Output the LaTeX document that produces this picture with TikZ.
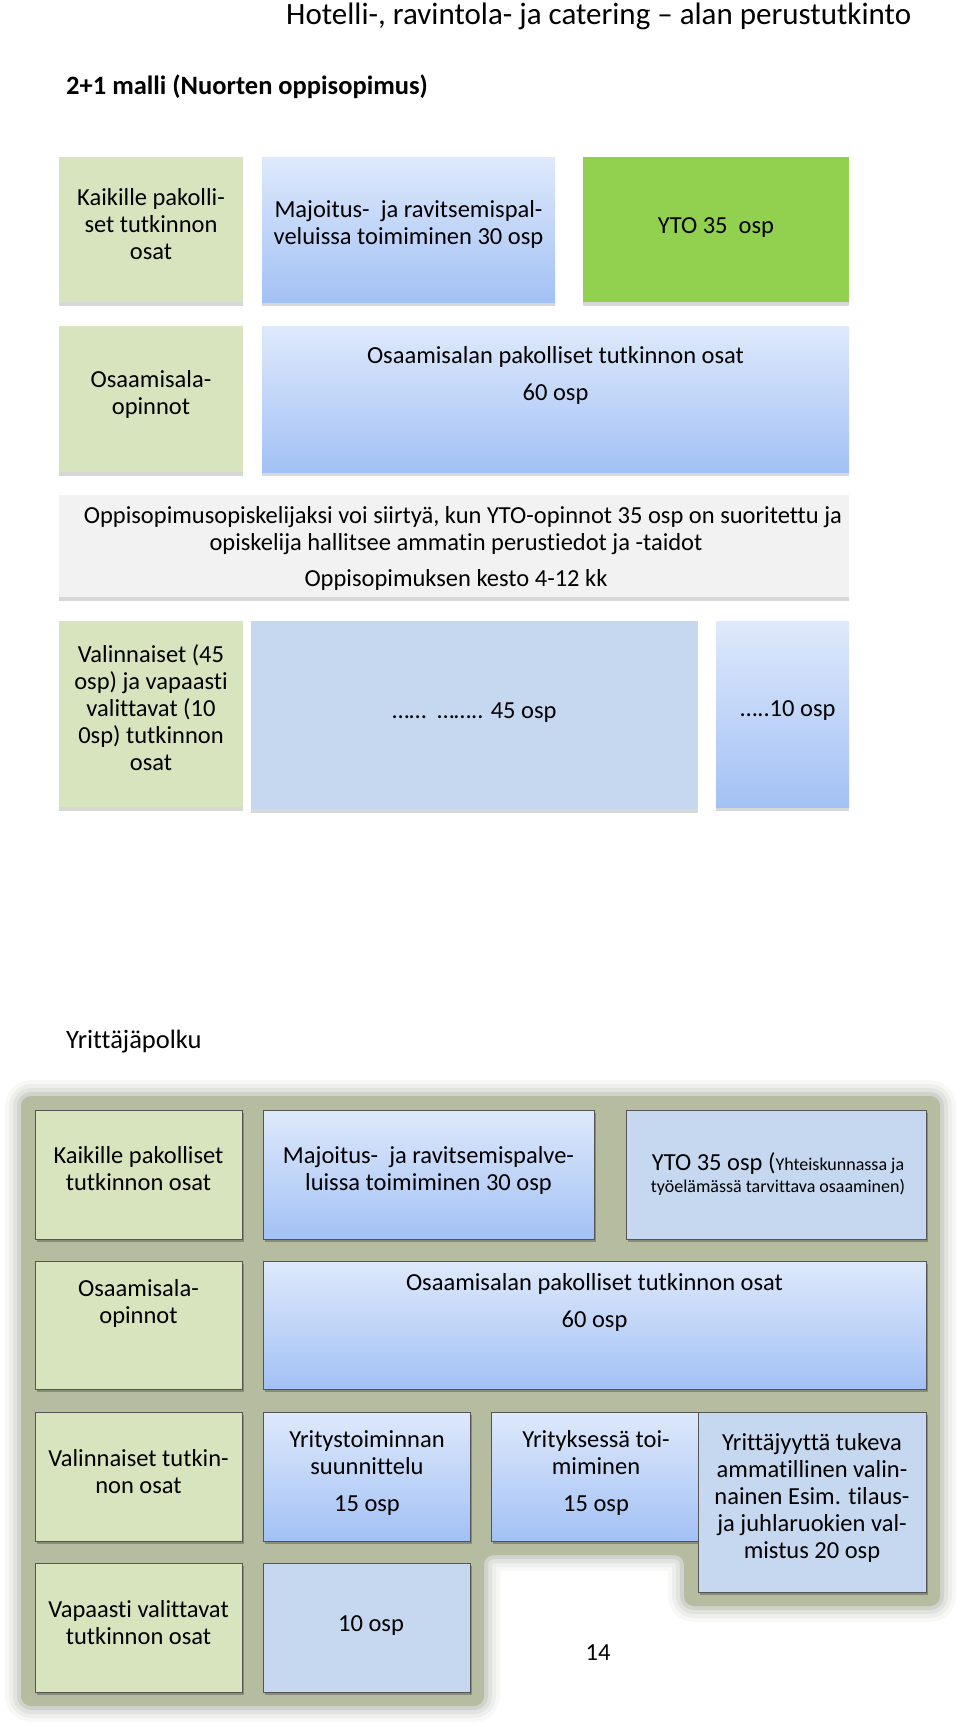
\documentclass[tikz,border=0pt]{standalone}
\usepackage{fontspec}
\setmainfont{Carlito}[Ligatures=NoCommon]
\usetikzlibrary{shadows}
\definecolor{boxgreen}{RGB}{215,228,189}
\definecolor{gradtop}{RGB}{222,233,251}
\definecolor{gradbot}{RGB}{163,193,245}
\definecolor{flatblue}{RGB}{198,216,240}
\definecolor{brightgreen}{RGB}{146,208,80}
\definecolor{lightgray}{RGB}{242,242,242}
\definecolor{olivebg}{RGB}{181,188,159}
\definecolor{olivehalo}{RGB}{170,174,160}
\definecolor{edgegray}{RGB}{85,85,85}
\begin{document}
\begin{tikzpicture}[x=1pt,y=-1pt,
  base/.style={inner sep=0, outer sep=0, anchor=north west, draw=none},
  softshadow/.style={drop shadow={shadow xshift=0pt, shadow yshift=-4pt, opacity=0.22, fill=black!70}},
  edgeshadow/.style={drop shadow={shadow xshift=2pt, shadow yshift=-2.5pt, opacity=0.35, fill=black!80}},
  greenbox/.style={base, fill=boxgreen},
  gradbox/.style={base, top color=gradtop, bottom color=gradbot},
  flatbox/.style={base, fill=flatblue},
  brightbox/.style={base, fill=brightgreen},
  graybox/.style={base, fill=lightgray},
  topbox/.style={softshadow},
  lowbox/.style={edgeshadow, draw=edgegray, line width=0.9pt},
  lbl/.style={inner sep=0, align=center, yshift=-3pt, font=\fontsize{24.5}{27}\selectfont,
    execute at begin node=\strut, execute at end node=\strut},
  smalllbl/.style={inner sep=0, align=center, yshift=-3pt, font=\fontsize{18}{22}\selectfont,
    execute at begin node=\strut, execute at end node=\strut},
  heading/.style={inner sep=0, anchor=base west}
]
\useasboundingbox (0,0) rectangle (960,1727);
\fill[white] (0,0) rectangle (960,1727);

% ---------- headings ----------
\node[heading, font=\fontsize{31}{36}\selectfont] (title) at (286,24)
  {Hotelli-, ravintola- ja catering – alan perustutkinto};
\node[heading, font=\bfseries\fontsize{26.5}{30}\selectfont] (sub) at (66,94)
  {2+1 malli (Nuorten oppisopimus)};

% ---------- section 1 boxes ----------
\node[greenbox, topbox, minimum width=184, minimum height=145] (a1) at (59,157) {};
\node[gradbox, topbox, minimum width=293, minimum height=145] (a2) at (262,157) {};
\node[brightbox, topbox, minimum width=266, minimum height=145] (a3) at (583,157) {};
\node[greenbox, topbox, minimum width=184, minimum height=146] (b1) at (59,326) {};
\node[gradbox, topbox, minimum width=587, minimum height=146] (b2) at (262,326) {};
\node[graybox, topbox, minimum width=790, minimum height=102] (c1) at (59,495) {};
\node[greenbox, topbox, minimum width=184, minimum height=186] (d1) at (59,621) {};
\node[flatbox, topbox, minimum width=447, minimum height=188] (d2) at (251,621) {};
\node[gradbox, topbox, minimum width=133, minimum height=186] (d3) at (716,621) {};

\node[lbl] (ta1) at (151,225) {Kaikille pakolli-\\set tutkinnon\\osat};
\node[lbl] (ta2) at (408.5,224) {Majoitus-\ \ ja ravitsemispal-\\veluissa toimiminen 30 osp};
\node[lbl] (ta3) at (716,225) {YTO 35\ \ osp};
\node[lbl] (tb1) at (151,393.5) {Osaamisala-\\opinnot};
\node[lbl] (tb2) at (555.5,374.5) {Osaamisalan pakolliset tutkinnon osat\\[10pt]60 osp};
\node[lbl] (tc1) at (456,547.5) {\hspace*{14pt}Oppisopimusopiskelijaksi voi siirtyä, kun YTO-opinnot 35 osp on suoritettu ja\\opiskelija hallitsee ammatin perustiedot ja -taidot\\[9pt]Oppisopimuksen kesto 4-12 kk};
\node[lbl] (td1) at (151,709) {Valinnaiset (45\\osp) ja vapaasti\\valittavat (10\\0sp) tutkinnon\\osat};
\node[lbl] (td2) at (474.5,710) {……\ \ …….. 45 osp};
\node[lbl] (td3) at (788,708) {…..10 osp};

% ---------- section 2 ----------
\node[heading, font=\fontsize{26.5}{30}\selectfont] (yp) at (66,1048) {Yrittäjäpolku};

\begin{scope}[rounded corners=10pt]
  \foreach \w/\o in {32/0.08, 24/0.12, 16/0.18, 8/0.3}{
    \draw[olivehalo, line width=\w pt, opacity=\o, line join=round]
      (21,1096) -- (940,1096) -- (940,1606) -- (684,1606) -- (684,1555)
      -- (484,1555) -- (484,1706) -- (21,1706) -- cycle;
  }
  \fill[olivebg] (21,1096) -- (940,1096) -- (940,1606) -- (684,1606) -- (684,1555)
      -- (484,1555) -- (484,1706) -- (21,1706) -- cycle;
\end{scope}

\node[greenbox, lowbox, minimum width=207, minimum height=129] (e1) at (35,1110) {};
\node[gradbox, lowbox, minimum width=331, minimum height=129] (e2) at (263,1110) {};
\node[flatbox, lowbox, minimum width=300, minimum height=129] (e3) at (626,1110) {};
\node[greenbox, lowbox, minimum width=207, minimum height=128] (f1) at (35,1261) {};
\node[gradbox, lowbox, minimum width=663, minimum height=128] (f2) at (263,1261) {};
\node[greenbox, lowbox, minimum width=207, minimum height=129] (g1) at (35,1412) {};
\node[gradbox, lowbox, minimum width=207, minimum height=129] (g2) at (263,1412) {};
\node[gradbox, lowbox, minimum width=207, minimum height=129] (g3) at (491,1412) {};
\node[flatbox, lowbox, minimum width=228, minimum height=180] (g4) at (698,1412) {};
\node[greenbox, lowbox, minimum width=207, minimum height=129] (h1) at (35,1563) {};
\node[flatbox, lowbox, minimum width=207, minimum height=129] (h2) at (263,1563) {};

\node[lbl] (te1) at (138.5,1169.5) {Kaikille pakolliset\\tutkinnon osat};
\node[lbl] (te2) at (428.5,1170) {Majoitus-\ \ ja ravitsemispalve-\\luissa toimiminen 30 osp};
\node[smalllbl] (te3) at (778,1173) {{\fontsize{24.5}{22}\selectfont YTO 35 osp (}Yhteiskunnassa ja\\työelämässä tarvittava osaaminen)};
\node[lbl] (tf1) at (138.5,1302.5) {Osaamisala-\\opinnot};
\node[lbl] (tf2) at (594.5,1301.5) {Osaamisalan pakolliset tutkinnon osat\\[10pt]60 osp};
\node[lbl] (tg1) at (138.5,1472.5) {Valinnaiset tutkin-\\non osat};
\node[lbl] (tg2) at (367,1472) {Yritystoiminnan\\suunnittelu\\[10pt]15 osp};
\node[lbl] (tg3) at (596,1472) {Yrityksessä toi-\\miminen\\[10pt]15 osp};
\node[lbl] (tg4) at (812,1497.5) {Yrittäjyyttä tukeva\\ammatillinen valin-\\nainen Esim. tilaus-\\ja juhlaruokien val-\\mistus 20 osp};
\node[lbl] (th1) at (138.5,1623.5) {Vapaasti valittavat\\tutkinnon osat};
\node[lbl] (th2) at (371,1623) {10 osp};

\node[lbl] (page) at (598,1652) {14};
\end{tikzpicture}
\end{document}
